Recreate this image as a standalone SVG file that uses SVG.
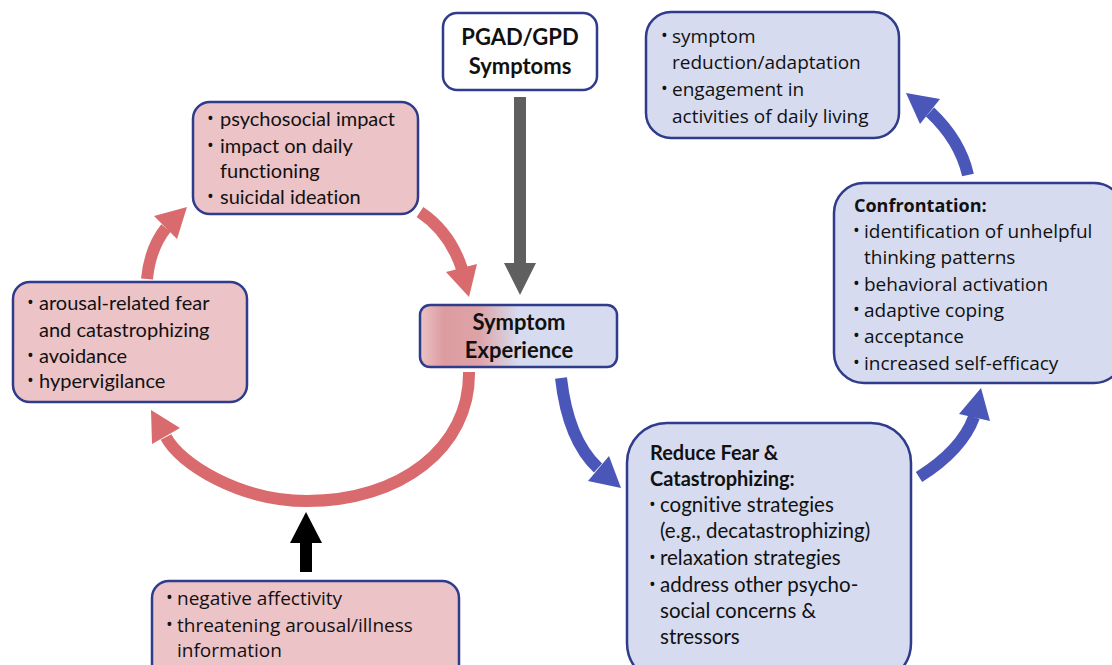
<svg xmlns="http://www.w3.org/2000/svg" width="1112" height="665" viewBox="0 0 1112 665">
  <defs>
    <linearGradient id="symGrad" x1="0" y1="0" x2="1" y2="0">
      <stop offset="0" stop-color="#ecc3c6"/>
      <stop offset="0.12" stop-color="#dc9ca0"/>
      <stop offset="0.3" stop-color="#dea3a7"/>
      <stop offset="0.5" stop-color="#d6dbef"/>
      <stop offset="1" stop-color="#d6dbef"/>
    </linearGradient>
  </defs>
  <style>
    text { font-variant-ligatures: none; }
    .box { stroke: #2f3b8b; stroke-width: 2.5; }
    .pink { fill: #ecc3c6; }
    .lav { fill: #d6dbef; }
    .white { fill: #ffffff; }
    .cal { font-family: Lato, "Open Sans", sans-serif; font-size: 20px; fill: #111; }
    .calr { font-family: Lato, "Open Sans", sans-serif; font-size: 20.5px; fill: #111; }
    .os { font-family: "Open Sans", "Noto Sans", sans-serif; font-size: 19px; fill: #111; }
    .bul { font-family: "Open Sans", "Noto Sans", sans-serif; font-size: 18px; fill: #111; }
    .calb { font-family: Lato, "Open Sans", sans-serif; font-weight: bold; font-size: 20px; fill: #111; }
    .osb { font-family: "Open Sans", "Noto Sans", sans-serif; font-weight: bold; font-size: 18px; fill: #111; }
    .title { font-family: Lato, "Open Sans", sans-serif; font-weight: bold; font-size: 22px; fill: #111; text-anchor: middle; }
    .pinkShaft { fill: none; stroke: #d96b6e; stroke-width: 12; }
    .blueShaft { fill: none; stroke: #4a57b9; stroke-width: 12; }
    .pinkHead { fill: #d96b6e; }
    .blueHead { fill: #4a57b9; }
  </style>

  <g id="connectors">
    <!-- gray: PGAD -> Symptom Experience -->
    <rect x="514" y="97" width="12" height="168" fill="#5f5f5f"/>
    <polygon points="504,263 536,263 520,295" fill="#5f5f5f"/>
    <!-- pink: psychosocial -> Symptom Experience -->
    <path class="pinkShaft" d="M 420 212 Q 450 232 462 269"/>
    <polygon class="pinkHead" points="446,272 477,264 469,297"/>
    <!-- pink: arousal fear -> psychosocial -->
    <path class="pinkShaft" d="M 147 279 Q 150 248 166 228"/>
    <polygon class="pinkHead" points="154,216 177,239 187,207"/>
    <!-- pink: Symptom Experience -> arousal fear (big arc) -->
    <path class="pinkShaft" d="M 469 372 C 470 448 400 501 307 501 C 240 501 180 464 166 437"/>
    <polygon class="pinkHead" points="180,428 152,444 151,410"/>
    <!-- black: negative affectivity -> arc -->
    <rect x="300" y="541" width="12" height="31" fill="#000"/>
    <polygon points="290,543 322,543 306,512" fill="#000"/>
    <!-- blue: Symptom Experience -> Reduce Fear -->
    <path class="blueShaft" d="M 561 378 Q 568 440 598 468"/>
    <polygon class="blueHead" points="588,481 609,456 621,488"/>
    <!-- blue: Reduce Fear -> Confrontation -->
    <path class="blueShaft" d="M 919 477 Q 962 450 974 417"/>
    <polygon class="blueHead" points="959,414 990,421 981,388"/>
    <!-- blue: Confrontation -> outcome -->
    <path class="blueShaft" d="M 968 175 Q 960 140 930 112"/>
    <polygon class="blueHead" points="940,99 920,124 906,93"/>
  </g>

  <g id="pgad">
    <rect class="box white" x="443" y="13" width="154" height="77" rx="14"/>
    <text class="title" x="520" y="45">PGAD/GPD</text>
    <text class="title" x="520" y="74">Symptoms</text>
  </g>

  <g id="impact">
    <rect class="box pink" x="193" y="102" width="225" height="112" rx="17"/>
    <text class="bul" x="207" y="125">•</text><text class="cal" x="220" y="126">psychosocial impact</text>
    <text class="bul" x="207" y="152">•</text><text class="cal" x="220" y="153">impact on daily</text>
    <text class="cal" x="220" y="178">functioning</text>
    <text class="bul" x="207" y="203">•</text><text class="cal" x="220" y="204">suicidal ideation</text>
  </g>

  <g id="fear">
    <rect class="box pink" x="13" y="282" width="234" height="120" rx="17"/>
    <text class="bul" x="27" y="309">•</text><text class="cal" x="39" y="310">arousal-related fear</text>
    <text class="cal" x="39" y="337">and catastrophizing</text>
    <text class="bul" x="27" y="362">•</text><text class="cal" x="39" y="363">avoidance</text>
    <text class="bul" x="27" y="387">•</text><text class="cal" x="39" y="388">hypervigilance</text>
  </g>

  <g id="symptom-experience">
    <rect class="box" fill="url(#symGrad)" x="420" y="305" width="197" height="62" rx="10"/>
    <text class="title" x="519" y="330" font-size="21">Symptom</text>
    <text class="title" x="519" y="358" font-size="21">Experience</text>
  </g>

  <g id="negative">
    <rect class="box pink" x="152" y="581" width="307" height="100" rx="17"/>
    <text class="bul" x="166" y="604">•</text><text class="os" x="177" y="605">negative affectivity</text>
    <text class="bul" x="166" y="631">•</text><text class="os" x="177" y="632">threatening arousal/illness</text>
    <text class="os" x="177" y="657">information</text>
  </g>

  <g id="reduce">
    <rect class="box lav" x="627" y="423" width="284" height="260" rx="40"/>
    <text class="calb" x="650" y="460">Reduce Fear &amp;</text>
    <text class="calb" x="650" y="486">Catastrophizing:</text>
    <text class="bul" x="649" y="511">•</text><text class="calr" x="660" y="512">cognitive strategies</text>
    <text class="calr" x="660" y="538">(e.g., decatastrophizing)</text>
    <text class="bul" x="649" y="564">•</text><text class="calr" x="660" y="565">relaxation strategies</text>
    <text class="bul" x="649" y="591">•</text><text class="calr" x="660" y="592">address other psycho-</text>
    <text class="calr" x="660" y="618">social concerns &amp;</text>
    <text class="calr" x="660" y="644">stressors</text>
  </g>

  <g id="confrontation">
    <rect class="box lav" x="834" y="183" width="290" height="200" rx="30"/>
    <text class="osb" x="854" y="212">Confrontation:</text>
    <text class="bul" x="853" y="237">•</text><text class="os" x="864" y="238">identification of unhelpful</text>
    <text class="os" x="864" y="264">thinking patterns</text>
    <text class="bul" x="853" y="290">•</text><text class="os" x="864" y="291">behavioral activation</text>
    <text class="bul" x="853" y="316">•</text><text class="os" x="864" y="317">adaptive coping</text>
    <text class="bul" x="853" y="342">•</text><text class="os" x="864" y="343">acceptance</text>
    <text class="bul" x="853" y="369">•</text><text class="os" x="864" y="370">increased self-efficacy</text>
  </g>

  <g id="outcome">
    <rect class="box lav" x="646" y="12" width="253" height="126" rx="25"/>
    <text class="bul" x="661" y="42">•</text><text class="os" x="672" y="43">symptom</text>
    <text class="os" x="672" y="69">reduction/adaptation</text>
    <text class="bul" x="661" y="95">•</text><text class="os" x="672" y="96">engagement in</text>
    <text class="os" x="672" y="123">activities of daily living</text>
  </g>
</svg>
